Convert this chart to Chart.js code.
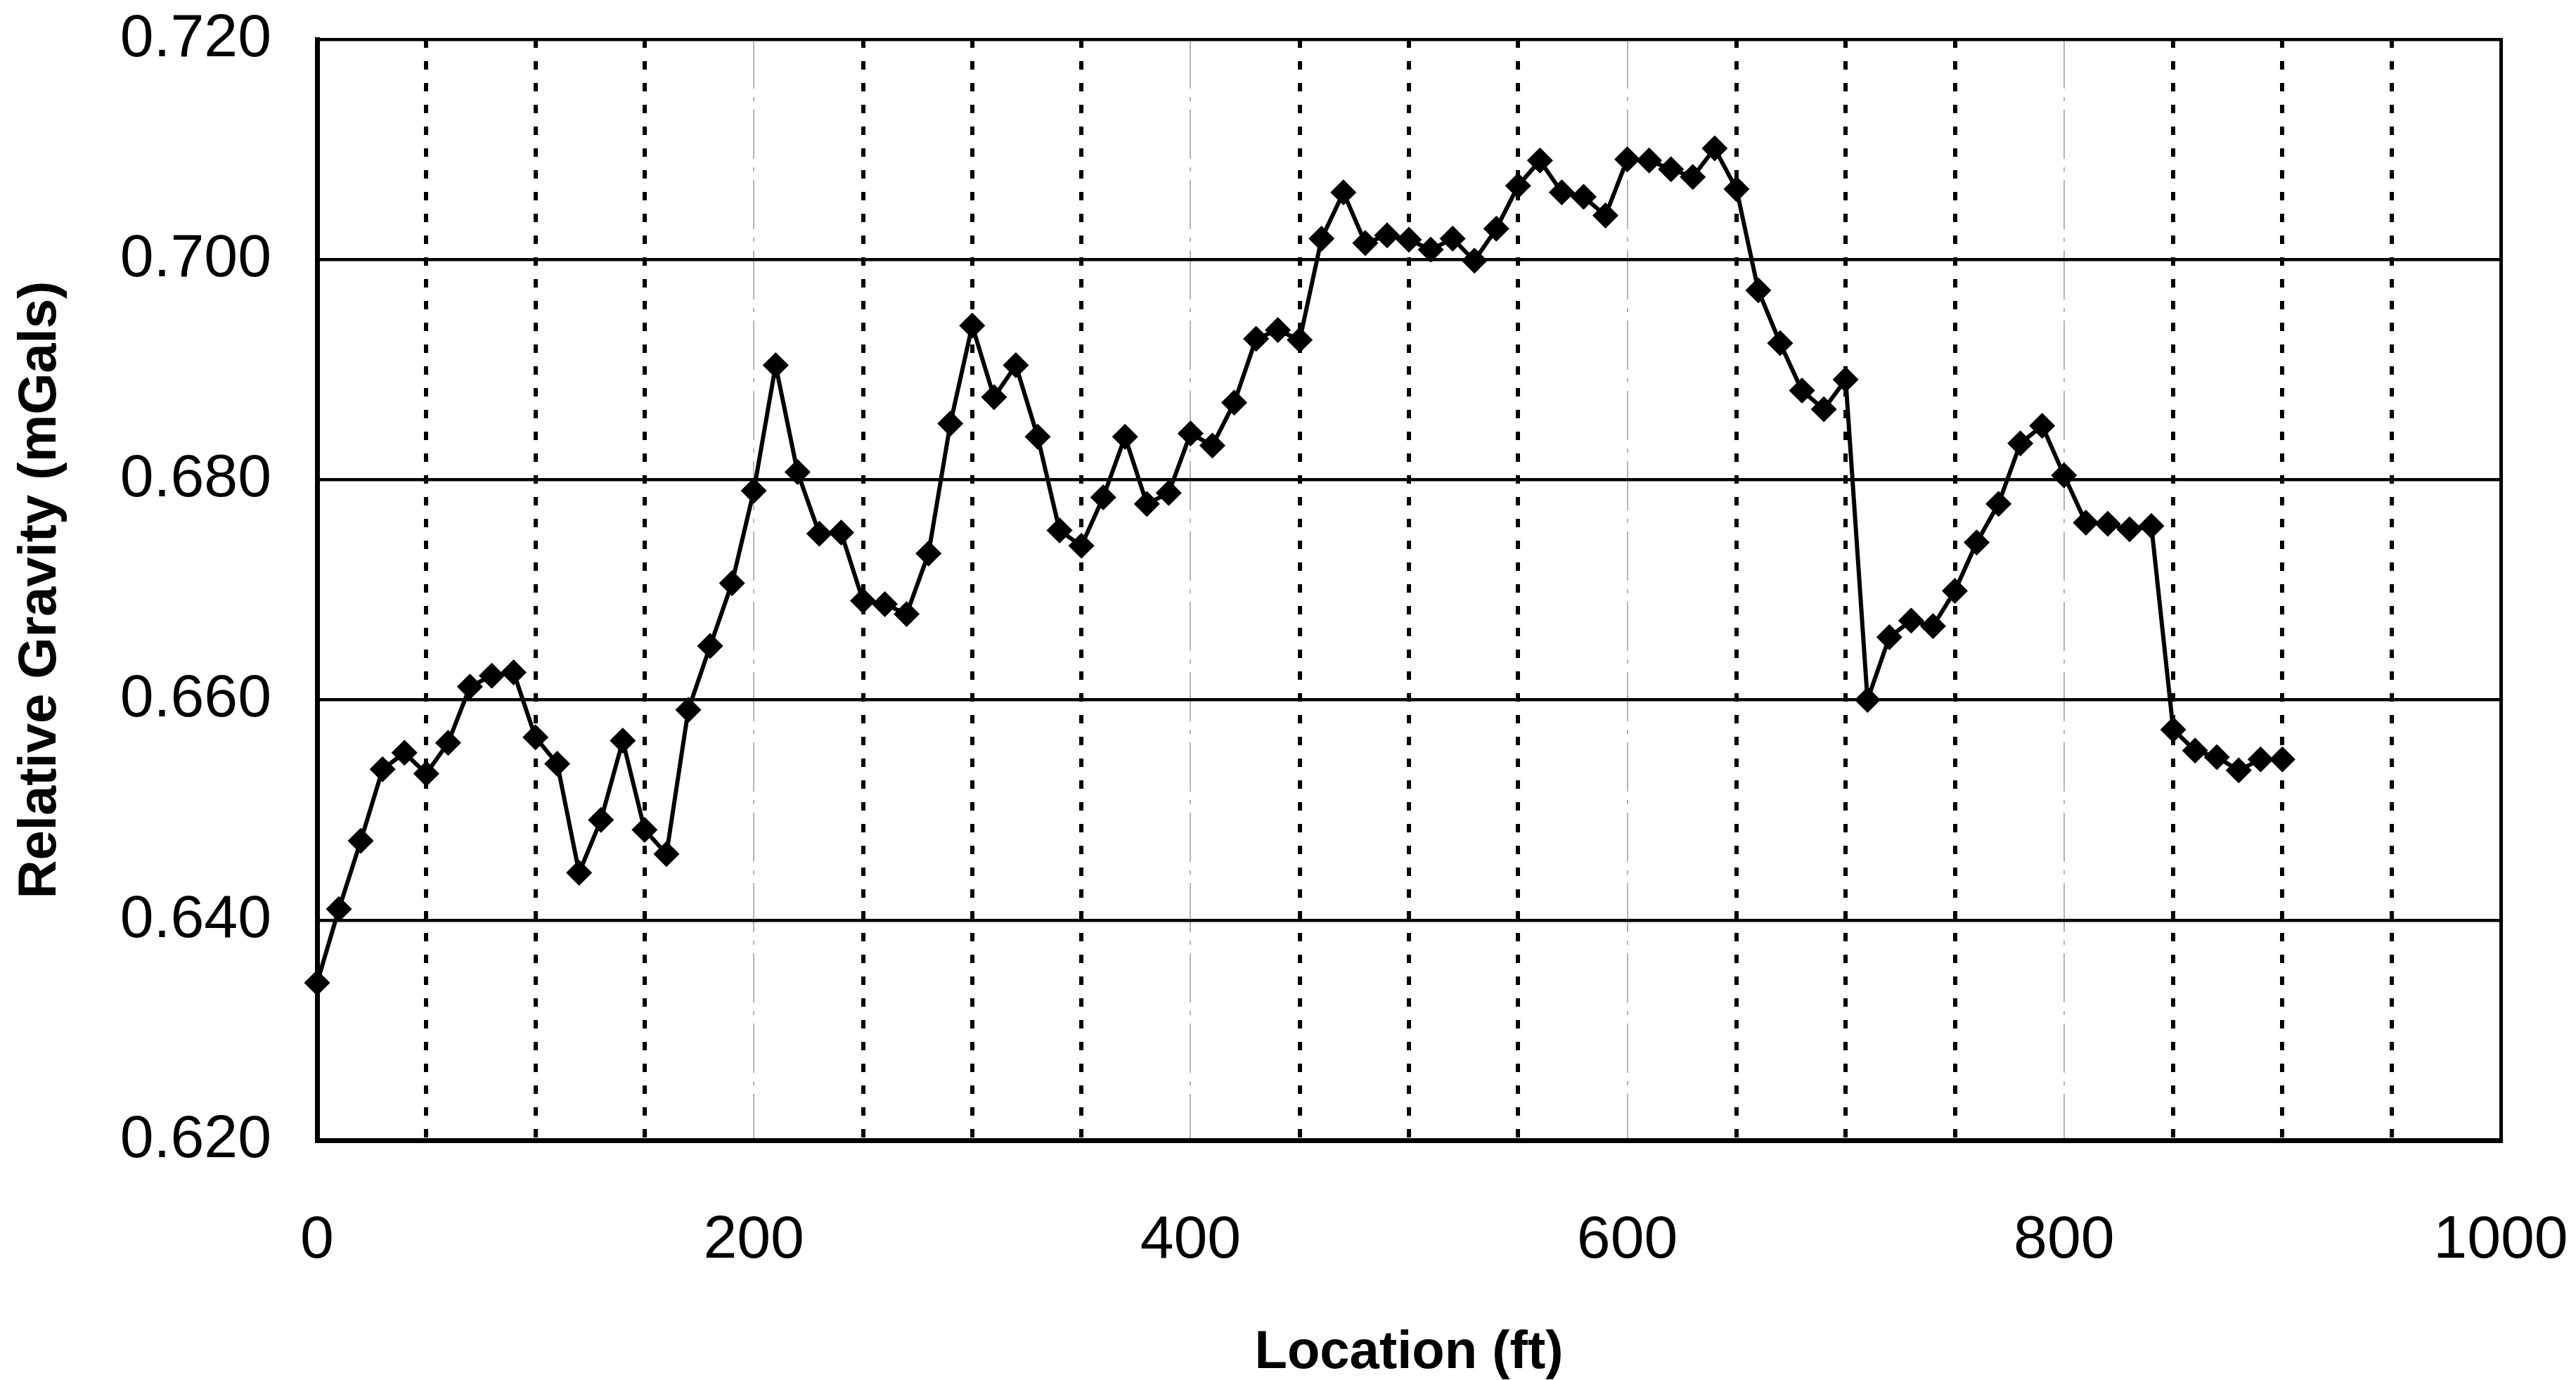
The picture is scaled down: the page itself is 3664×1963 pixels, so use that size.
<!DOCTYPE html>
<html>
<head>
<meta charset="utf-8">
<script src="https://cdn.jsdelivr.net/npm/chart.js@4/dist/chart.umd.min.js"></script>
<style>
  html, body { margin: 0; padding: 0; background: #ffffff; }
  #wrap { width: 3664px; height: 1963px; }
</style>
</head>
<body>
<div id="wrap"><canvas id="c" width="3664" height="1963"></canvas></div>
<script>
// Location (ft)
const locations = [
  0, 10, 20, 30, 40, 50, 60, 70, 80, 90,
  100, 110, 120, 130, 140, 150, 160, 170, 180, 190,
  200, 210, 220, 230, 240, 250, 260, 270, 280, 290,
  300, 310, 320, 330, 340, 350, 360, 370, 380, 390,
  400, 410, 420, 430, 440, 450, 460, 470, 480, 490,
  500, 510, 520, 530, 540, 550, 560, 570, 580, 590,
  600, 610, 620, 630, 640, 650, 660, 670, 680, 690,
  700, 710, 720, 730, 740, 750, 760, 770, 780, 790,
  800, 810, 820, 830, 840, 850, 860, 870, 880, 890,
  900
];
// Relative Gravity (mGals)
const gravity = [
  0.6343, 0.6410, 0.6472, 0.6537, 0.6552, 0.6533, 0.6561, 0.6612, 0.6622, 0.6625,
  0.6566, 0.6542, 0.6443, 0.6491, 0.6563, 0.6482, 0.6460, 0.6591, 0.6649, 0.6706,
  0.6790, 0.6904, 0.6807, 0.6751, 0.6752, 0.6690, 0.6687, 0.6678, 0.6733, 0.6851,
  0.6940, 0.6875, 0.6904, 0.6839, 0.6754, 0.6740, 0.6784, 0.6839, 0.6778, 0.6788,
  0.6842, 0.6831, 0.6870, 0.6928, 0.6936, 0.6927, 0.7019, 0.7061, 0.7015, 0.7022,
  0.7018, 0.7009, 0.7019, 0.6999, 0.7028, 0.7067, 0.7090, 0.7061, 0.7057, 0.7040,
  0.7091, 0.7090, 0.7082, 0.7075, 0.7101, 0.7064, 0.6972, 0.6924, 0.6881, 0.6864,
  0.6891, 0.6600, 0.6657, 0.6672, 0.6667, 0.6699, 0.6743, 0.6778, 0.6833, 0.6849,
  0.6804, 0.6761, 0.6760, 0.6755, 0.6758, 0.6573, 0.6554, 0.6548, 0.6536, 0.6546,
  0.6546
];
// Axis ranges / tick labels
const xMin = 0, xMax = 1000, xLabelStep = 200, xGridStep = 50;
const yMin = 0.62, yMax = 0.72, yStep = 0.02;
const xTitle = 'Location (ft)';
const yTitle = 'Relative Gravity (mGals)';

const points = locations.map((x, i) => ({ x: x, y: gravity[i] }));

const FONT = "'Liberation Sans', Arial, sans-serif";

new Chart(document.getElementById('c'), {
  type: 'line',
  data: {
    datasets: [{
      data: points,
      borderColor: '#000',
      backgroundColor: '#000',
      borderWidth: 6,
      tension: 0,
      pointStyle: 'rectRot',
      pointRadius: 18,
      pointBackgroundColor: '#000',
      pointBorderColor: '#000',
      pointBorderWidth: 1,
      clip: false
    }]
  },
  options: {
    responsive: false,
    animation: false,
    devicePixelRatio: 1,
    layout: { padding: { top: 56, right: 107, left: 0, bottom: 0 } },
    plugins: { legend: { display: false }, tooltip: { enabled: false } },
    scales: {
      x: {
        type: 'linear',
        position: 'bottom',
        min: xMin, max: xMax,
        afterFit: (s) => { s.height = 341; s.paddingLeft = 0; s.paddingRight = 0; },
        ticks: {
          stepSize: xGridStep,
          autoSkip: false,
          maxRotation: 0,
          padding: 92,
          color: '#000',
          font: { family: FONT, size: 86 },
          callback: (v) => (v % xLabelStep === 0 ? String(v) : '')
        },
        grid: {
          drawTicks: false,
          lineWidth: 6,
          color: (ctx) => (ctx.tick && ctx.tick.value % xLabelStep !== 0 ? '#000' : 'rgba(0,0,0,0)')
        },
        border: { display: true, color: '#000', width: 7, dash: [12, 19] },
        title: {
          display: true, text: xTitle, color: '#000',
          font: { family: FONT, size: 76, weight: 'bold' },
          padding: { top: 0, bottom: -8 }
        }
      },
      x2: {
        type: 'linear',
        position: 'top',
        min: xMin, max: xMax,
        afterFit: (s) => { s.height = 0; s.paddingLeft = 0; s.paddingRight = 0; },
        ticks: { display: false, stepSize: xLabelStep },
        grid: {
          drawTicks: false,
          lineWidth: 2,
          color: (ctx) => (ctx.tick && ctx.tick.value > xMin && ctx.tick.value < xMax ? '#b4b4b4' : 'rgba(0,0,0,0)')
        },
        border: { display: false, dash: [70, 12, 6, 12] }
      },
      y: {
        type: 'linear',
        position: 'left',
        min: yMin, max: yMax,
        afterFit: (s) => { s.width = 451; s.paddingTop = 0; s.paddingBottom = 0; },
        ticks: {
          stepSize: yStep,
          padding: 65,
          color: '#000',
          font: { family: FONT, size: 86 },
          callback: (v) => Number(v).toFixed(3)
        },
        grid: { drawTicks: false, lineWidth: 4.5, color: '#000' },
        border: { display: true, color: '#000', width: 7 },
        title: {
          display: true, text: yTitle, color: '#000',
          font: { family: FONT, size: 76, weight: 'bold' },
          padding: { top: 12, bottom: 0 }
        }
      },
      y2: {
        type: 'linear',
        position: 'right',
        min: yMin, max: yMax,
        afterFit: (s) => { s.width = 0; s.paddingTop = 0; s.paddingBottom = 0; },
        ticks: { display: false },
        grid: { drawOnChartArea: false, drawTicks: false },
        border: { display: true, color: '#000', width: 5 }
      }
    }
  }
});
</script>
</body>
</html>
